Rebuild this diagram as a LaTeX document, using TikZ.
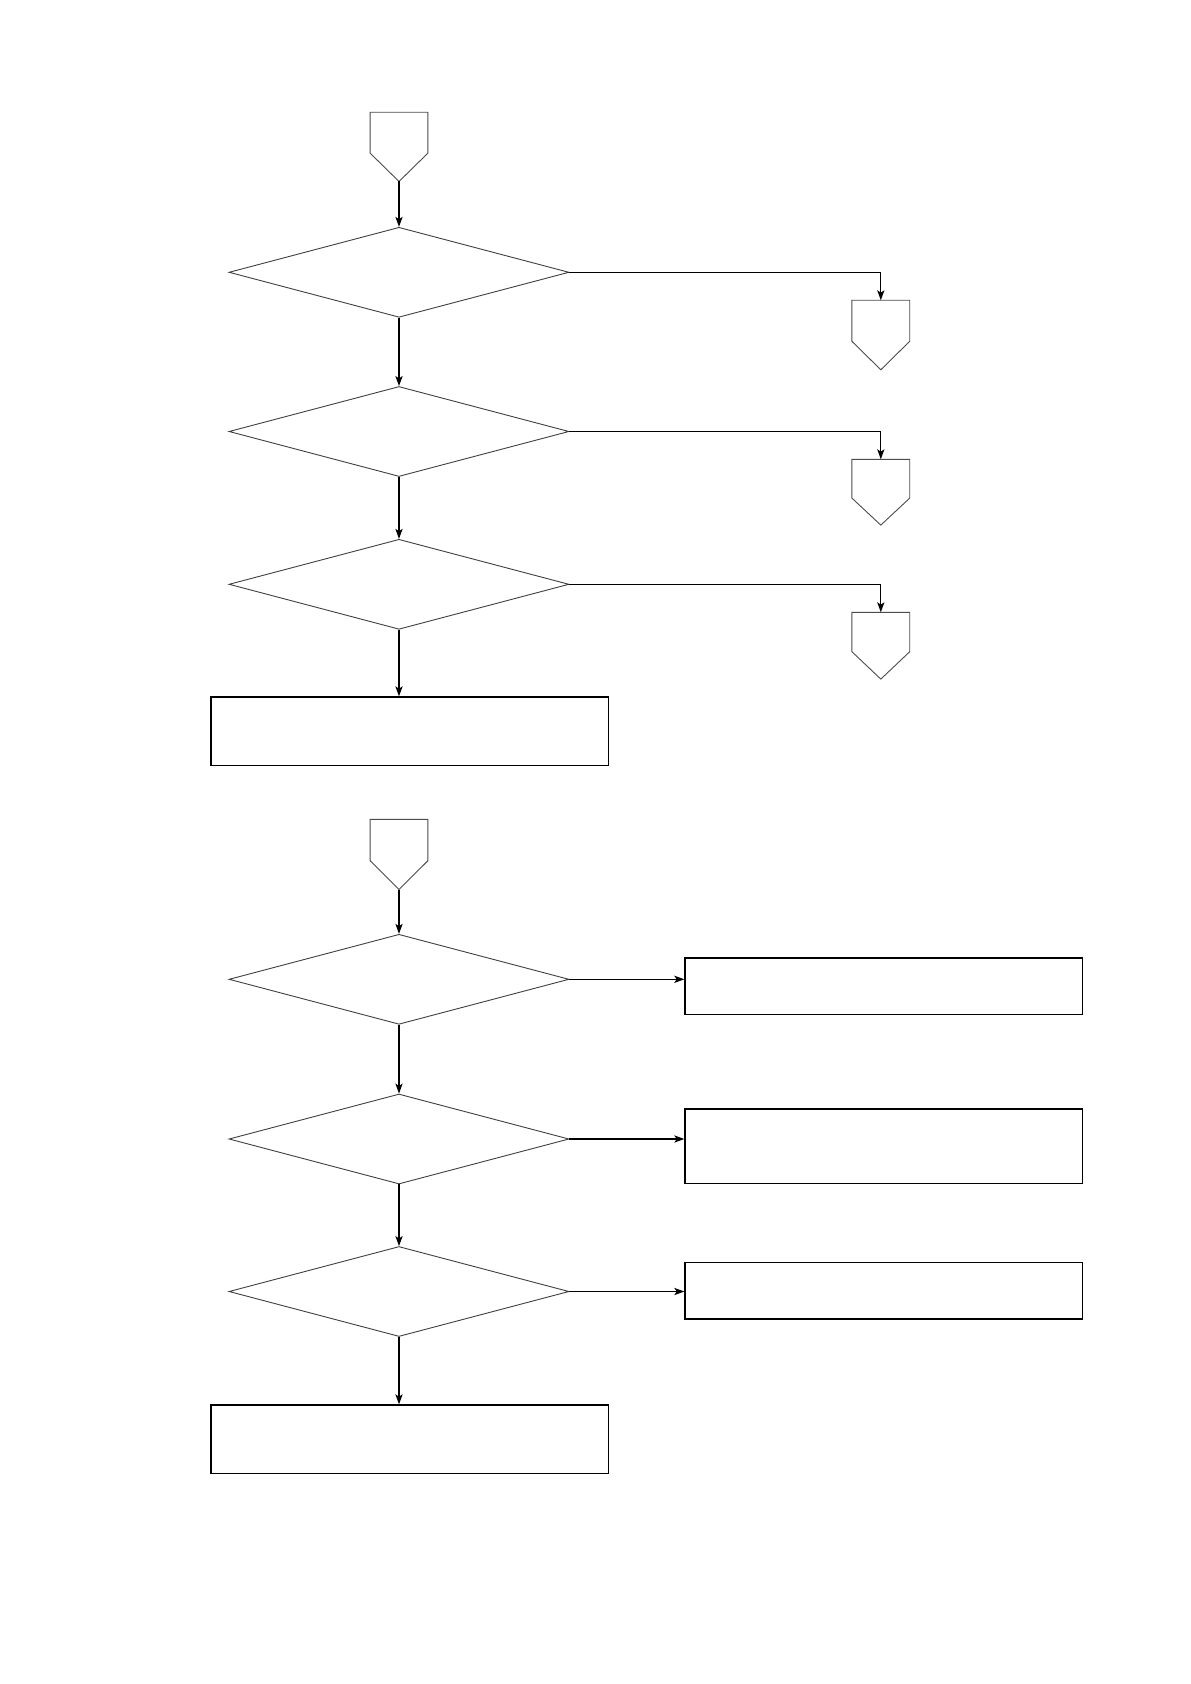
\documentclass[tikz,border=0pt]{standalone}
\usetikzlibrary{shapes.geometric,arrows.meta,calc}
\begin{document}
\begin{tikzpicture}[x=0.5pt,y=-0.5pt,
  decision/.style={diamond,draw=black!75,line width=0.45pt,inner sep=0pt,minimum width=170pt,minimum height=45pt},
  procbox/.style={rectangle,draw=black,line width=0.6pt,inner sep=0pt},
  offpage/.style={rectangle,draw=none,inner sep=0pt,minimum width=28.5pt},
  pentline/.style={draw=black!70,line width=0.45pt},
  flow/.style={draw=black,line width=0.6pt,-{Stealth[length=5pt,width=3.6pt,inset=1.2pt]}}
]
\path[use as bounding box,fill=white] (0,0) rectangle (1190,1684);

% --- upper chart ---
\node[offpage,anchor=north,minimum height=34.2pt] (c0) at (399,112.3) {};
\node[decision] (d1) at (399,272.3) {};
\node[offpage,anchor=north,minimum height=34.35pt] (rc1) at (880.8,300.3) {};
\node[decision] (d2) at (399,431.5) {};
\node[offpage,anchor=north,minimum height=32.5pt] (rc2) at (880.8,459.3) {};
\node[decision] (d3) at (399,584.3) {};
\node[offpage,anchor=north,minimum height=33pt] (rc3) at (880.8,612.3) {};
\node[procbox,anchor=north west,minimum width=198.65pt,minimum height=34.35pt] (r1) at (210.4,696.3) {};

% --- lower chart ---
\node[offpage,anchor=north,minimum height=34.7pt] (c1) at (399,819.3) {};
\node[decision] (d4) at (399,979.3) {};
\node[procbox,anchor=north west,minimum width=198.7pt,minimum height=28.35pt] (rr1) at (684.3,957.3) {};
\node[decision] (d5) at (399,1139) {};
\node[procbox,anchor=north west,minimum width=198.7pt,minimum height=37.35pt] (rr2) at (684.3,1108.3) {};
\node[decision] (d6) at (399,1291.5) {};
\node[procbox,anchor=north west,minimum width=198.7pt,minimum height=28.3pt] (rr3) at (684.3,1261.7) {};
\node[procbox,anchor=north west,minimum width=198.6pt,minimum height=34.35pt] (r2) at (210.3,1404.3) {};

% pentagon off-page connectors
\foreach \n in {c0,rc1,rc2,rc3,c1}{
  \draw[pentline] (\n.north west) -- (\n.north east)
    -- ($(\n.north east)!0.59!(\n.south east)$) -- (\n.south)
    -- ($(\n.north west)!0.59!(\n.south west)$) -- cycle;
}

% connectors upper
\draw[flow] (c0.south) -- (d1.north);
\draw[flow] (d1.east) -- (d1.east -| rc1.north) -- (rc1.north);
\draw[flow] (d1.south) -- (d2.north);
\draw[flow] (d2.east) -- (d2.east -| rc2.north) -- (rc2.north);
\draw[flow] (d2.south) -- (d3.north);
\draw[flow] (d3.east) -- (d3.east -| rc3.north) -- (rc3.north);
\draw[flow] (d3.south) -- (d3.south |- r1.north);

% connectors lower
\draw[flow] (c1.south) -- (d4.north);
\draw[flow] (d4.east) -- (d4.east -| rr1.west);
\draw[flow] (d4.south) -- (d5.north);
\draw[flow] (d5.east) -- (d5.east -| rr2.west);
\draw[flow] (d5.south) -- (d6.north);
\draw[flow] (d6.east) -- (d6.east -| rr3.west);
\draw[flow] (d6.south) -- (d6.south |- r2.north);
\end{tikzpicture}
\end{document}
